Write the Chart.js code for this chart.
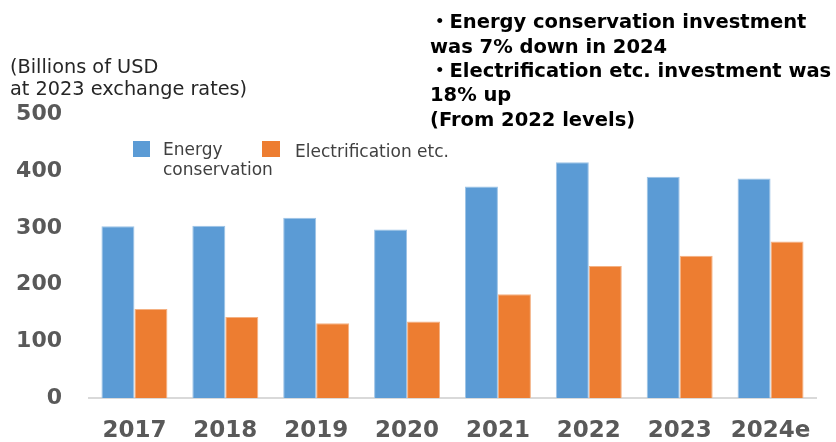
<html>
<head>
<style>
  body { margin: 0; background: #fff; }
</style>
</head>
<body>
<canvas id="myChart" width="836" height="442"></canvas>
<script src="https://cdn.jsdelivr.net/npm/chart.js@4.4.1/dist/chart.umd.min.js"></script>
<script>
const years = ["2017", "2018", "2019", "2020", "2021", "2022", "2023", "2024e"];
const energyConservation = [303, 304, 318, 297, 373, 416, 390, 387];
const electrification = [157, 143, 132, 135, 183, 233, 251, 276];
const yTicks = [0, 100, 200, 300, 400, 500];

const unitLines = ["(Billions of USD", "at 2023 exchange rates)"];
const noteLines = [
  "・Energy conservation investment",
  "was 7% down in 2024",
  "・Electrification etc. investment was",
  "18% up",
  "(From 2022 levels)"
];

const BLUE = "#5B9BD5";
const ORANGE = "#ED7D31";

// text that sits outside the plot: unit label, legend, note
const overlay = {
  id: "overlay",
  afterDraw(chart) {
    const ctx = chart.ctx;
    ctx.save();
    ctx.textAlign = "left";
    ctx.textBaseline = "alphabetic";

    ctx.fillStyle = "#262626";
    ctx.font = "19.3px 'DejaVu Sans'";
    ctx.fillText(unitLines[0], 10, 73);
    ctx.fillText(unitLines[1], 10, 95);

    // legend
    const ds = chart.data.datasets;
    ctx.fillStyle = ds[0].backgroundColor;
    ctx.fillRect(133, 141, 17, 16);
    ctx.fillStyle = ds[1].backgroundColor;
    ctx.fillRect(262, 141, 18, 16);
    ctx.fillStyle = "#404040";
    ctx.font = "17px 'DejaVu Sans'";
    ctx.fillText("Energy", 163, 155);
    ctx.fillText("conservation", 163, 175);
    ctx.fillText("Electrification etc.", 295, 157);

    // note
    ctx.fillStyle = "#000";
    ctx.font = "bold 19.5px 'DejaVu Sans', 'Noto Sans CJK JP'";
    const base = [28, 52.5, 77, 101, 125.5];
    noteLines.forEach((t, i) => ctx.fillText(t, 430, base[i]));
    ctx.restore();
  }
};

new Chart("myChart", {
  type: "bar",
  data: {
    labels: years,
    datasets: [{
      label: "Energy conservation",
      data: energyConservation,
      backgroundColor: BLUE,
      borderColor: "#9DC3E6",
      borderWidth: 1,
      categoryPercentage: 0.726,
      barPercentage: 1.0
    }, {
      label: "Electrification etc.",
      data: electrification,
      backgroundColor: ORANGE,
      borderColor: "#F4B183",
      borderWidth: 1,
      categoryPercentage: 0.726,
      barPercentage: 1.0
    }]
  },
  options: {
    responsive: false,
    animation: false,
    layout: { padding: { top: 114.5, right: 20, left: 0, bottom: 0 } },
    plugins: {
      legend: { display: false },
      tooltip: { enabled: false }
    },
    scales: {
      x: {
        grid: { display: false, drawTicks: false },
        border: { display: true, color: "#D9D9D9", width: 2 },
        ticks: {
          color: "#595959",
          font: { family: "DejaVu Sans", size: 23, weight: "bold" },
          padding: 19,
          maxRotation: 0
        },
        afterFit(scale) { scale.height = 44; }
      },
      y: {
        min: 0,
        max: 500,
        grid: { display: false, drawTicks: false },
        border: { display: false },
        afterBuildTicks(scale) { scale.ticks = yTicks.map(v => ({ value: v })); },
        ticks: {
          color: "#595959",
          font: { family: "DejaVu Sans", size: 22, weight: "bold" },
          padding: 27
        },
        afterFit(scale) { scale.width = 89; }
      }
    }
  },
  plugins: [overlay]
});
</script>
</body>
</html>
